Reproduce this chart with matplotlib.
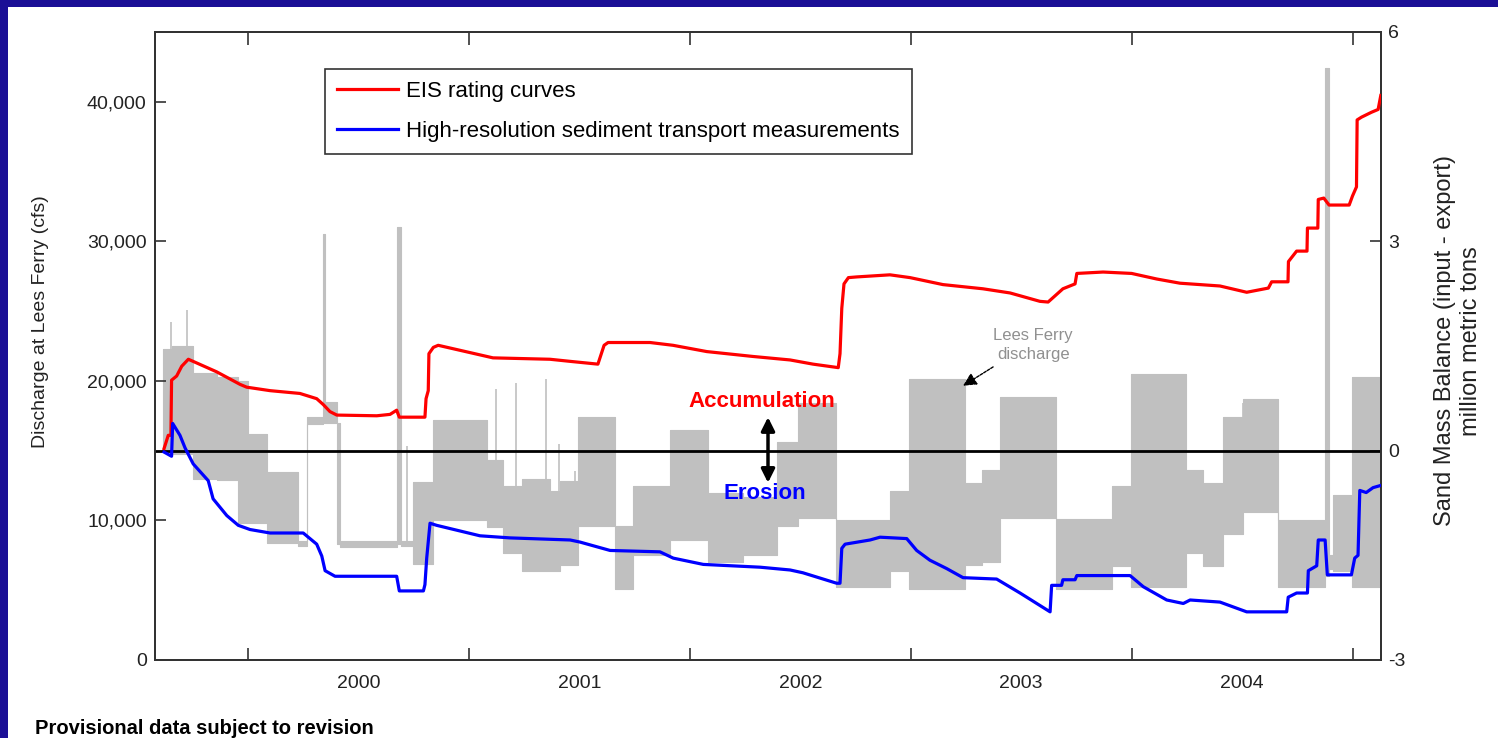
import numpy as np
import matplotlib
matplotlib.use("Agg")
import matplotlib.pyplot as plt
from matplotlib.patches import Rectangle
from matplotlib.ticker import FixedLocator, FuncFormatter

plt.rcParams['font.family'] = ['Liberation Sans', 'DejaVu Sans']
plt.rcParams['axes.unicode_minus'] = False

# ---- data (time in decimal years) ----
# Lees Ferry discharge: blocks of daily fluctuation (low / high, cfs)
flow_edges = [1999.615, 1999.656, 1999.751, 1999.860, 1999.955, 2000.000, 2000.086,
              2000.226, 2000.267, 2000.340, 2000.349, 2000.403, 2000.416, 2000.675,
              2000.694, 2000.747, 2000.837, 2001.082, 2001.154, 2001.240, 2001.367,
              2001.412, 2001.492, 2001.661, 2001.743, 2001.910, 2002.082, 2002.241,
              2002.395, 2002.490, 2002.662, 2002.906, 2002.992, 2003.246, 2003.323,
              2003.404, 2003.658, 2003.911, 2003.997, 2004.246, 2004.323, 2004.414,
              2004.504, 2004.663, 2004.876, 2004.894, 2004.912, 2004.998, 2005.129]
flow_low = [14900, 14750, 13000, 12900, 9800, 9800, 8350, 8200, 16900, 17000,
            17000, 8300, 8100, 8300, 8200, 6900, 10000, 9500, 7700, 6400,
            6400, 6800, 9600, 5060, 7500, 8600, 7000, 7500, 9600, 10200,
            5200, 6400, 5100, 6800, 7000, 10200, 5100, 6700, 5200, 7700,
            6700, 9000, 10600, 5200, 6000, 6500, 6400, 5200]
flow_high = [22300, 22500, 20600, 20300, 20000, 16200, 13500, 8500, 17400, 30500,
             18500, 17000, 8500, 31000, 8500, 12750, 17200, 14300, 12500, 13000,
             12100, 12800, 17400, 9600, 12500, 16500, 12000, 11700, 15600, 18400,
             10050, 12100, 20100, 12700, 13600, 18850, 10100, 12500, 20500, 13600,
             12700, 17400, 18700, 10050, 42400, 7500, 11800, 20300]

# short flow spikes (cfs)
spike_t = [1999.652, 1999.724, 2000.720, 2001.123, 2001.213, 2001.349, 2001.408, 2001.480, 2004.505]
spike_base = [22300, 22500, 8500, 14300, 12500, 13000, 12100, 12800, 17400]
spike_peak = [24200, 25100, 15300, 19440, 19880, 20170, 15480, 13570, 18400]

# sand mass balance, million metric tons
eis_t = [1999.620, 1999.639, 1999.651, 1999.654, 1999.677, 1999.700, 1999.730, 1999.858,
         1999.964, 1999.994, 2000.100, 2000.235, 2000.311, 2000.341, 2000.371, 2000.402,
         2000.583, 2000.643, 2000.673, 2000.685, 2000.801, 2000.806, 2000.816, 2000.819,
         2000.839, 2000.861, 2001.109, 2001.367, 2001.458, 2001.584, 2001.612, 2001.630,
         2001.820, 2001.924, 2002.077, 2002.286, 2002.454, 2002.558, 2002.672, 2002.680,
         2002.688, 2002.698, 2002.718, 2002.756, 2002.906, 2002.997, 2003.146, 2003.327,
         2003.450, 2003.585, 2003.622, 2003.689, 2003.744, 2003.752, 2003.871, 2004.000,
         2004.114, 2004.219, 2004.400, 2004.521, 2004.619, 2004.634, 2004.708, 2004.710,
         2004.747, 2004.794, 2004.796, 2004.843, 2004.845, 2004.870, 2004.894, 2004.985,
         2005.000, 2005.018, 2005.021, 2005.041, 2005.086, 2005.116, 2005.128]
eis_val = [0.03, 0.22, 0.22, 1.01, 1.07, 1.21, 1.31, 1.13,
           0.95, 0.91, 0.86, 0.82, 0.745, 0.66, 0.56, 0.51,
           0.50, 0.52, 0.58, 0.48, 0.48, 0.745, 0.86, 1.39,
           1.48, 1.51, 1.33, 1.31, 1.28, 1.24, 1.51, 1.55,
           1.55, 1.51, 1.42, 1.35, 1.30, 1.24, 1.19, 1.39,
           2.04, 2.39, 2.48, 2.49, 2.52, 2.48, 2.38, 2.32,
           2.26, 2.14, 2.13, 2.32, 2.39, 2.54, 2.56, 2.54,
           2.46, 2.40, 2.36, 2.27, 2.33, 2.42, 2.42, 2.71,
           2.86, 2.86, 3.19, 3.19, 3.60, 3.62, 3.52, 3.52,
           3.65, 3.78, 4.74, 4.78, 4.85, 4.89, 5.09]

hires_t = [1999.620, 1999.654, 1999.659, 1999.692, 1999.715, 1999.752, 1999.820, 1999.842,
           1999.904, 1999.956, 2000.009, 2000.100, 2000.250, 2000.311, 2000.334, 2000.349,
           2000.394, 2000.673, 2000.685, 2000.794, 2000.801, 2000.809, 2000.824, 2000.854,
           2001.050, 2001.186, 2001.458, 2001.503, 2001.639, 2001.865, 2001.925, 2002.061,
           2002.318, 2002.454, 2002.512, 2002.665, 2002.680, 2002.688, 2002.703, 2002.816,
           2002.861, 2002.982, 2003.027, 2003.087, 2003.163, 2003.237, 2003.389, 2003.495,
           2003.631, 2003.638, 2003.683, 2003.689, 2003.744, 2003.752, 2003.993, 2004.053,
           2004.159, 2004.234, 2004.265, 2004.400, 2004.521, 2004.702, 2004.709, 2004.747,
           2004.796, 2004.800, 2004.838, 2004.845, 2004.876, 2004.886, 2004.995, 2005.010,
           2005.025, 2005.033, 2005.062, 2005.093, 2005.126]
hires_val = [-0.02, -0.08, 0.39, 0.22, 0.04, -0.19, -0.43, -0.69,
             -0.93, -1.07, -1.13, -1.18, -1.18, -1.34, -1.51, -1.72,
             -1.80, -1.80, -2.01, -2.01, -1.92, -1.54, -1.04, -1.07,
             -1.22, -1.25, -1.28, -1.31, -1.43, -1.45, -1.54, -1.63,
             -1.67, -1.71, -1.75, -1.90, -1.90, -1.40, -1.34, -1.28,
             -1.24, -1.26, -1.43, -1.57, -1.69, -1.82, -1.84, -2.04,
             -2.31, -1.93, -1.93, -1.85, -1.85, -1.79, -1.79, -1.95,
             -2.14, -2.19, -2.14, -2.17, -2.31, -2.31, -2.10, -2.04,
             -2.04, -1.72, -1.65, -1.28, -1.28, -1.78, -1.78, -1.54,
             -1.50, -0.57, -0.60, -0.53, -0.50]

years = [2000, 2001, 2002, 2003, 2004]

W, H = 1498, 738
fig = plt.figure(figsize=(W / 100, H / 100), dpi=100, facecolor='#1b0f96')
fig.patches.append(Rectangle((8 / W, 0), 1, (H - 7) / H, transform=fig.transFigure,
                             facecolor='white', edgecolor='none', zorder=-5))

ax = fig.add_axes([155 / W, (H - 660) / H, (1381 - 155) / W, (660 - 32) / H])
ax.set_facecolor('white')

# discharge as a stepped band
lo = list(flow_low) + [flow_low[-1]]
hi = list(flow_high) + [flow_high[-1]]
ax.fill_between(flow_edges, lo, hi, step='post', color='#c0c0c0', lw=0.8,
                edgecolor='#c0c0c0', zorder=1)
ax.vlines(spike_t, spike_base, spike_peak, color='#c0c0c0', lw=1.2, zorder=1)

ax.set_xlim(1999.579, 2005.129)
ax.set_ylim(0, 45000)
ax.yaxis.set_major_locator(FixedLocator([0, 10000, 20000, 30000, 40000]))
ax.yaxis.set_major_formatter(FuncFormatter(lambda v, p: f'{int(v):,}'))
ax.xaxis.set_major_locator(FixedLocator(years + [2005]))
ax.xaxis.set_minor_locator(FixedLocator([y + 0.5 for y in years]))
ax.set_xticklabels([])
ax.set_xticklabels([str(y) for y in years], minor=True)
ax.tick_params(axis='x', which='major', direction='in', length=9, width=1.2,
               top=True, color='#333333')
ax.tick_params(axis='x', which='minor', length=0, pad=11, labelsize=14,
               labelcolor='#222222')
ax.tick_params(axis='y', direction='in', length=8, width=1.2, right=True,
               pad=6, labelsize=14, labelcolor='#222222', color='#333333')
for s in ax.spines.values():
    s.set_linewidth(1.4)
    s.set_color('#333333')

ax2 = ax.twinx()
ax2.set_ylim(-3, 6)
ax2.yaxis.set_major_locator(FixedLocator([-3, 0, 3, 6]))
ax2.tick_params(axis='y', direction='in', length=8, width=1.2, pad=5,
                labelsize=14, labelcolor='#222222', color='#333333')
for s in ax2.spines.values():
    s.set_linewidth(1.4)
    s.set_color('#333333')

ax2.axhline(0, color='black', lw=2.0, zorder=2)
l1, = ax2.plot(eis_t, eis_val, color='#ff0000', lw=2.3, zorder=3,
               label='EIS rating curves')
l2, = ax2.plot(hires_t, hires_val, color='#0000ff', lw=2.3, zorder=3,
               label='High-resolution sediment transport measurements')

leg = fig.legend(handles=[l1, l2], loc='upper left',
                 bbox_to_anchor=(325 / W, (H - 69) / H), borderaxespad=0,
                 fontsize=16, frameon=True, fancybox=False, edgecolor='black',
                 handlelength=2.75, handletextpad=0.35, labelspacing=0.85,
                 borderpad=0.55)
leg.get_frame().set_linewidth(1.2)

# annotations
ax2.text(2002.327, 0.70, 'Accumulation', color='#ff0000', fontsize=16,
         fontweight='bold', ha='center', va='center')
ax2.text(2002.340, -0.62, 'Erosion', color='#0000ff', fontsize=16,
         fontweight='bold', ha='center', va='center')
ax2.annotate('', xy=(2002.354, 0.48), xytext=(2002.354, -0.46),
             arrowprops=dict(arrowstyle='<|-|>', color='black', lw=2.5,
                             mutation_scale=20, shrinkA=0, shrinkB=0))
ax2.text(2003.554, 1.51, 'Lees Ferry\ndischarge', color='#909090', fontsize=12,
         ha='center', va='center', linespacing=1.35)
ax2.annotate('', xy=(2003.237, 0.93), xytext=(2003.373, 1.20),
             arrowprops=dict(arrowstyle='-|>', color='black', lw=1.0,
                             linestyle=(0, (2, 1)), mutation_scale=20,
                             shrinkA=0, shrinkB=0))

# axis titles
fig.text(41 / W, 1 - 322 / H, 'Discharge at Lees Ferry (cfs)', rotation=90,
         fontsize=14, ha='center', va='center', color='#222222')
fig.text(1458 / W, 1 - 341 / H, 'Sand Mass Balance (input - export)\nmillion metric tons',
         rotation=90, fontsize=17, ha='center', va='center', color='#222222',
         linespacing=1.2, multialignment='center')

fig.text(35 / W, 1 - 728 / H, 'Provisional data subject to revision', fontsize=14.5,
         fontweight='bold', ha='left', va='center', color='black')

fig.savefig('out.png', dpi=100, facecolor=fig.get_facecolor())
